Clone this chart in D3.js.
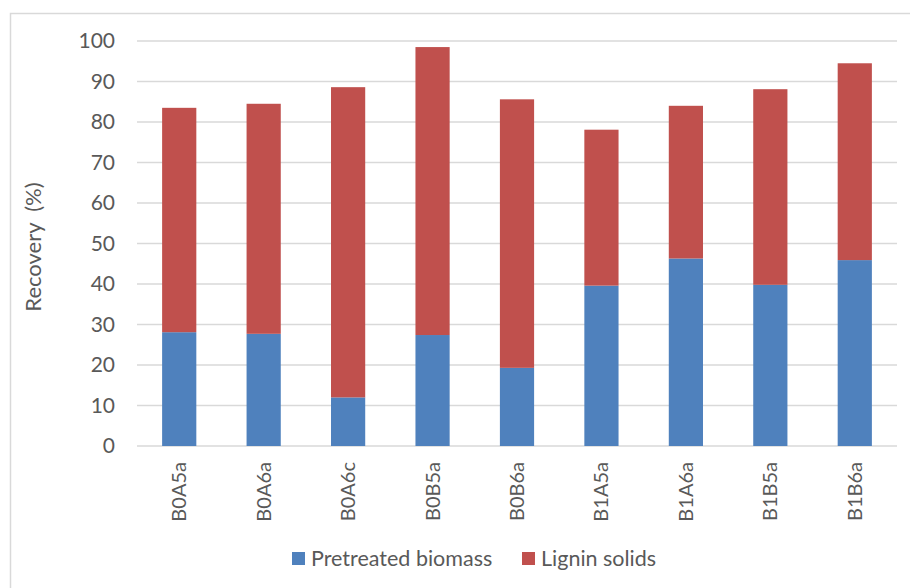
<!DOCTYPE html>
<html>
<head>
<meta charset="utf-8">
<script src="https://cdn.jsdelivr.net/npm/d3@7"></script>
<style>
  body { margin: 0; background: #fff; }
  text { font-family: Lato, "Open Sans", sans-serif; fill: #595959; }
</style>
</head>
<body>
<div id="chart-area"></div>
<script>
// data
var categories = ["B0A5a", "B0A6a", "B0A6c", "B0B5a", "B0B6a", "B1A5a", "B1A6a", "B1B5a", "B1B6a"];
var pretreated = [28.1, 27.7, 12.0, 27.4, 19.3, 39.6, 46.3, 39.8, 45.9];
var lignin = [55.4, 56.8, 76.6, 71.1, 66.3, 38.5, 37.7, 48.3, 48.6];
var seriesNames = ["Pretreated biomass", "Lignin solids"];
var yTicks = [0, 10, 20, 30, 40, 50, 60, 70, 80, 90, 100];

var colors = ["#4f81bd", "#c0504d"];

var chartWidth = 910,
    chartHeight = 588;

var margin = { top: 41, right: 13, bottom: 142, left: 137 };
var width = chartWidth - margin.left - margin.right,
    height = chartHeight - margin.top - margin.bottom;

var root = d3.select("#chart-area").append("svg")
    .attr("width", chartWidth)
    .attr("height", chartHeight);

// outer frame
root.append("rect")
    .attr("x", 10.5).attr("y", 13.5)
    .attr("width", 920).attr("height", 600)
    .attr("fill", "none")
    .attr("stroke", "#d9d9d9")
    .attr("stroke-width", 1.5);

var svg = root.append("g")
    .attr("transform", "translate(" + margin.left + "," + margin.top + ")");

// build stacked table
var table = categories.map(function(c, i) {
    return { cat: c, pre: pretreated[i], lig: lignin[i] };
});
var stack = d3.stack().keys(["pre", "lig"]);
var layers = stack(table);

var x = d3.scaleBand()
    .domain(categories)
    .range([0, width])
    .paddingInner(0.595)
    .paddingOuter(0.2975);

var y = d3.scaleLinear()
    .domain([0, 100])
    .range([height, 0]);

// gridlines
svg.append("g")
    .selectAll("line")
    .data(yTicks)
    .enter().append("line")
    .attr("x1", 0).attr("x2", width)
    .attr("y1", d => y(d)).attr("y2", d => y(d))
    .attr("stroke", "#d9d9d9")
    .attr("stroke-width", 1.3);

// y axis labels
var yAxis = d3.axisLeft(y).tickValues(yTicks).tickSize(0).tickPadding(22);
var yAxisGroup = svg.append("g").call(yAxis);
yAxisGroup.select(".domain").remove();
yAxisGroup.selectAll("text")
    .style("font-size", "21px")
    .attr("fill", "#595959");

// bars
svg.selectAll(".layer")
    .data(layers)
    .enter().append("g")
    .attr("class", "layer")
    .attr("fill", (d, i) => colors[i])
    .selectAll("rect")
    .data(d => d)
    .enter().append("rect")
    .attr("x", d => x(d.data.cat))
    .attr("width", x.bandwidth())
    .attr("y", d => y(d[1]))
    .attr("height", d => y(d[0]) - y(d[1]));

// x axis labels
var xAxis = d3.axisBottom(x).tickSize(0).tickPadding(0);
var xAxisGroup = svg.append("g")
    .attr("transform", "translate(0," + height + ")")
    .call(xAxis);
xAxisGroup.select(".domain").remove();
xAxisGroup.selectAll("text")
    .style("font-size", "20px")
    .attr("fill", "#595959")
    .attr("text-anchor", "end")
    .attr("dy", "0.35em")
    .attr("transform", "translate(0,16) rotate(-90)");

// y title
root.append("text")
    .attr("transform", "translate(33,247) rotate(-90)")
    .attr("text-anchor", "middle")
    .attr("dy", "0.35em")
    .style("font-size", "22px")
    .style("white-space", "pre")
    .text("Recovery  (%)");

// legend
var legendX = [292, 522];
var legend = root.selectAll(".legend")
    .data(seriesNames)
    .enter().append("g")
    .attr("class", "legend")
    .attr("transform", (d, i) => "translate(" + legendX[i] + ",552)");
legend.append("rect")
    .attr("width", 13).attr("height", 13)
    .attr("fill", (d, i) => colors[i]);
legend.append("text")
    .attr("x", 19).attr("y", 6)
    .attr("dy", "0.35em")
    .style("font-size", "21.5px")
    .text(d => d);
</script>
</body>
</html>
